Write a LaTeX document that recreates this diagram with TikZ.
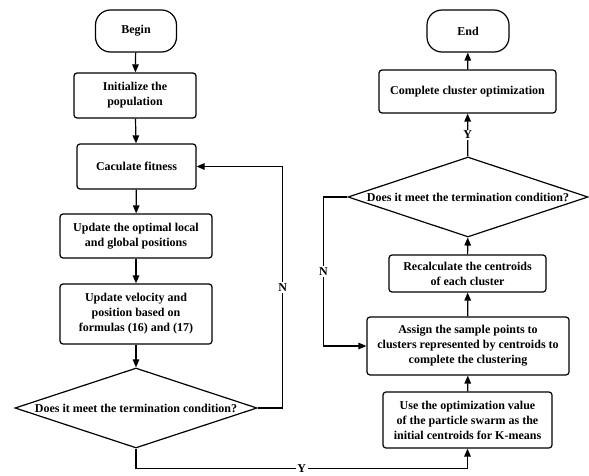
\documentclass[tikz,border=0pt]{standalone}
\usepackage{fontspec}
\setmainfont{Liberation Serif}
\usetikzlibrary{shapes.geometric,arrows.meta}

\tikzset{
  base/.style={draw=black, line width=1.2pt, font=\bfseries\fontsize{12}{15}\selectfont, align=center, inner sep=0pt},
  procbox/.style={base, rectangle, rounded corners=3pt},
  termbox/.style={base, rectangle, rounded corners=15pt},
  decision/.style={draw=black, line width=1.2pt, diamond, inner sep=0pt},
  dtext/.style={font=\bfseries\fontsize{12}{15}\selectfont, inner sep=0pt},
  arr/.style={line width=1.2pt, -{Triangle[length=8pt,width=6.5pt]}},
  flag/.style={font=\bfseries\fontsize{12}{15}\selectfont, fill=white, inner sep=1.5pt}
}

\begin{document}
\begin{tikzpicture}[x=1pt,y=-1pt]
            \useasboundingbox (0,0) rectangle (589,476);

            % left column
            \node[termbox, minimum width=81pt, minimum height=42pt] (begin) at (136,31) {Begin};
            \node[procbox, minimum width=122pt, minimum height=45pt] (init) at (135,95.5) {Initialize the\\population};
            \node[procbox, minimum width=119pt, minimum height=45pt] (fit) at (136.5,166.5) {Caculate fitness};
            \node[procbox, minimum width=152pt, minimum height=44pt] (upd) at (136,236) {Update the optimal local\\and global positions};
            \node[procbox, minimum width=152pt, minimum height=60pt] (vel) at (136,314) {Update velocity and\\position based on\\formulas (16) and (17)};
            \node[decision, minimum width=242pt, minimum height=80pt] (check1) at (136,408) {};
            \node[dtext] (check1txt) at (check1) {Does it meet the termination condition?};

            % right column
            \node[termbox, minimum width=82pt, minimum height=42pt] (end) at (468,31) {End};
            \node[procbox, minimum width=177pt, minimum height=43pt] (done) at (467.5,91.5) {Complete cluster optimization};
            \node[decision, minimum width=240pt, minimum height=80pt] (check2) at (468,197) {};
            \node[dtext] (check2txt) at (check2) {Does it meet the termination condition?};
            \node[procbox, minimum width=157pt, minimum height=37pt] (recalc) at (467.5,273.5) {Recalculate the centroids\\of each cluster};
            \node[procbox, minimum width=202pt, minimum height=58pt] (assign) at (468,346) {Assign the sample points to\\clusters represented by centroids to\\complete the clustering};
            \node[procbox, minimum width=169pt, minimum height=56pt] (kmeans) at (467.5,420) {Use the optimization value\\of the particle swarm as the\\initial centroids for K-means};

            % connectors
            \draw[arr] (begin) -- (init);
            \draw[arr] (init) -- (fit);
            \draw[arr] (fit) -- (upd);
            \draw[arr] (upd) -- (vel);
            \draw[arr] (vel) -- (check1);
            \draw[arr] (check1.east) -- ++(25,0) |- node[flag, pos=0.25] (no1) {N} (fit.east);
            \draw[arr] (check1.south) -- ++(0,20) -| node[flag, pos=0.25] (yes1) {Y} (kmeans.south);
            \draw[arr] (kmeans) -- (assign);
            \draw[arr] (assign) -- (recalc);
            \draw[arr] (recalc) -- (check2);
            \draw[arr] (check2.west) -- ++(-24,0) |- node[flag, pos=0.25] (no2) {N} (assign.west);
            \draw[arr] (check2) -- node[flag] (yes2) {Y} (done);
            \draw[arr] (done) -- (end);
        \end{tikzpicture}
\end{document}
